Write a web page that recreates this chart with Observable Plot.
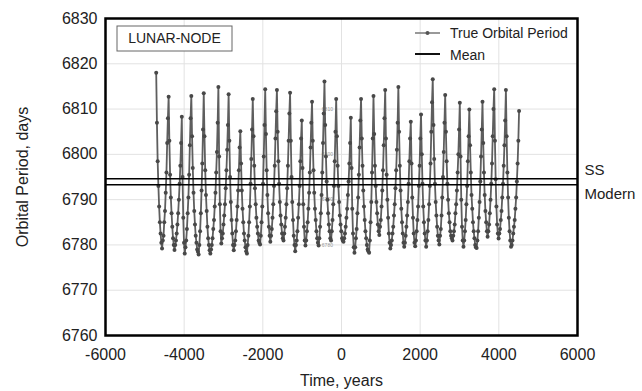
<!DOCTYPE html>
<html><head><meta charset="utf-8">
<script src="https://cdn.jsdelivr.net/npm/d3@7"></script>
<script src="https://cdn.jsdelivr.net/npm/@observablehq/plot@0.6"></script>
<style>body{margin:0;background:#fff;} #chart{width:642px;height:391px;}</style>
</head><body><div id="chart"></div>
<script>
// ---- data ----
const startYear = -4711;
const stepYears = 18.6;
const periodDays = [
6818.0,6807.0,6798.5,6793.0,6788.5,6785.0,6782.5,6780.5,6779.2,
6781.0,6782.0,6785.0,6787.5,6791.5,6796.0,6802.5,6808.0,6812.7,
6803.0,6795.5,6790.5,6787.0,6784.0,6781.5,6780.0,6778.9,
6780.0,6781.0,6782.5,6784.5,6787.0,6790.0,6793.5,6797.5,6802.5,6808.3,
6795.0,6786.0,6780.5,6778.1,
6779.5,6781.0,6783.5,6787.0,6790.5,6795.5,6802.0,6808.0,6812.9,
6804.0,6797.0,6791.5,6787.5,6784.5,6782.0,6780.5,6779.0,6778.5,6777.9,
6780.0,6783.0,6787.0,6792.0,6798.0,6805.5,6813.5,
6804.0,6796.5,6791.0,6787.5,6784.0,6781.5,6780.0,6778.8,6778.1,
6779.0,6780.0,6781.5,6783.5,6785.5,6788.5,6791.5,6796.0,6800.5,6807.0,6814.9,
6799.5,6789.0,6783.0,6780.3,
6781.5,6782.5,6784.5,6786.5,6789.0,6792.5,6796.5,6801.0,6806.5,6813.3,
6803.0,6795.0,6789.5,6785.5,6782.5,6780.0,6778.8,
6780.0,6781.0,6783.0,6785.5,6788.5,6792.0,6796.5,6801.5,6805.1,
6798.0,6792.0,6788.0,6785.0,6782.5,6781.0,6779.5,6778.6,6778.1,
6780.0,6782.0,6785.0,6788.5,6793.5,6799.0,6805.5,6812.2,
6804.0,6797.5,6792.5,6789.0,6786.0,6784.0,6782.5,6781.0,6780.5,6780.1,
6782.0,6785.0,6788.5,6793.5,6799.5,6806.5,6814.4,
6804.5,6796.5,6791.0,6787.0,6784.0,6782.0,6780.7,
6782.0,6783.5,6786.0,6789.0,6793.0,6797.5,6803.5,6809.5,6814.2,
6805.0,6798.5,6793.5,6789.5,6786.5,6784.5,6782.5,6781.5,6781.0,
6782.5,6784.0,6786.0,6789.0,6792.5,6797.5,6803.0,6809.0,6813.6,
6803.0,6795.0,6789.5,6785.5,6782.0,6780.0,6778.6,
6780.0,6781.0,6783.0,6786.0,6789.0,6793.0,6798.5,6803.5,6807.5,
6797.0,6789.0,6784.0,6781.0,6779.9,
6781.0,6783.0,6785.0,6788.0,6791.5,6796.0,6801.5,6807.0,6811.6,
6803.0,6796.5,6791.5,6788.0,6785.5,6783.0,6781.5,6780.5,6779.9,
6781.5,6784.0,6787.0,6791.0,6796.0,6802.5,6809.0,6816.1,
6806.5,6799.5,6794.0,6790.0,6787.0,6784.5,6783.0,6781.5,6781.0,
6783.0,6785.5,6789.0,6793.0,6798.5,6805.0,6812.2,
6804.0,6797.5,6793.0,6789.5,6786.5,6784.5,6783.0,6781.5,6781.0,6780.7,
6781.5,6782.5,6784.0,6786.0,6788.0,6791.0,6794.0,6798.0,6802.5,6808.1,
6797.0,6788.0,6782.5,6779.5,6778.3,
6779.5,6781.5,6783.5,6787.0,6790.5,6795.5,6801.5,6807.5,6812.2,
6803.5,6797.5,6792.0,6788.5,6785.5,6783.0,6781.5,6780.0,6779.0,6778.6,6778.3,
6781.0,6785.0,6789.5,6796.0,6803.5,6812.9,
6804.5,6797.5,6793.0,6789.5,6787.0,6784.5,6783.0,6782.2,
6784.0,6785.5,6788.5,6792.0,6796.5,6802.0,6808.0,6814.2,
6803.5,6795.5,6790.0,6786.0,6782.5,6780.5,6779.2,
6780.0,6781.0,6782.5,6784.0,6786.5,6789.0,6792.5,6796.5,6801.0,6807.0,6814.9,
6805.0,6797.5,6792.0,6788.0,6785.0,6782.5,6780.5,6779.6,
6780.5,6782.0,6784.0,6786.5,6789.5,6793.5,6798.5,6803.5,6807.2,
6798.0,6790.5,6786.0,6782.5,6780.5,6779.7,
6781.0,6783.0,6785.5,6788.5,6793.0,6797.5,6803.5,6808.8,
6800.0,6793.5,6788.5,6785.0,6782.5,6781.0,6779.6,
6781.0,6783.0,6785.5,6789.0,6793.0,6798.0,6805.0,6811.5,6816.6,
6806.5,6799.0,6793.5,6789.5,6786.5,6784.0,6782.0,6781.0,6780.1,
6782.0,6783.5,6786.5,6790.5,6795.0,6800.5,6807.0,6813.1,
6805.0,6798.5,6793.5,6790.0,6787.0,6785.0,6783.0,6782.0,6781.5,6781.0,
6782.0,6783.0,6784.5,6787.0,6789.0,6792.0,6796.0,6800.0,6805.5,6811.4,
6799.5,6790.0,6784.0,6781.0,6779.6,
6781.0,6783.0,6785.5,6789.0,6793.0,6798.5,6804.0,6809.9,
6802.0,6796.0,6791.0,6788.0,6785.0,6783.0,6781.5,6780.0,6779.5,6779.3,
6781.0,6783.0,6786.0,6789.5,6794.0,6799.5,6805.5,6811.6,
6802.5,6796.0,6791.0,6787.5,6785.0,6783.0,6781.8,
6783.0,6784.5,6787.0,6790.0,6793.5,6798.0,6804.0,6810.0,6814.4,
6803.0,6794.5,6788.5,6784.5,6782.5,6781.4,
6782.5,6783.5,6785.5,6787.5,6790.5,6793.5,6797.5,6802.0,6807.5,6814.2,
6804.0,6796.0,6790.5,6786.0,6783.0,6781.0,6779.6,
6780.0,6781.0,6782.5,6784.0,6785.5,6788.0,6790.5,6794.0,6798.0,6803.0,6809.6
];
const meanNames = ["SS", "Modern"];
const meanValues = [6794.6, 6793.3];
const xTicks = [-6000, -4000, -2000, 0, 2000, 4000, 6000];
const yTicks = [6760, 6770, 6780, 6790, 6800, 6810, 6820, 6830];
const insetTickValues = [6810, 6800, 6790, 6780];
const insetTickYear = -500;
const chartTag = "LUNAR-NODE";
const legendLabels = ["True Orbital Period", "Mean"];
const xTitle = "Time, years";
const yTitle = "Orbital Period, days";

// ---- tables ----
const series = periodDays.map((v, i) => ({year: startYear + i * stepYears, period: v}));
const means = meanNames.map((n, i) => ({name: n, value: meanValues[i]}));
const inset = insetTickValues.map(v => ({year: insetTickYear, value: v}));

const FONT = "'Liberation Sans', Arial, sans-serif";

function overlay(index, scales, values, dims) {
  const g = d3.create("svg:g").attr("font-family", FONT).attr("font-size", 14)
    .attr("fill", "#222").attr("text-anchor", "start");
  const L = dims.marginLeft, T = dims.marginTop, R = dims.width - dims.marginRight;
  // tag box
  g.append("rect").attr("x", L + 12).attr("y", T + 8).attr("width", 115).attr("height", 25)
    .attr("fill", "#fff").attr("stroke", "#666").attr("stroke-width", 1);
  g.append("text").attr("x", L + 12 + 57.5).attr("y", T + 8 + 12.5).attr("dy", "0.35em")
    .attr("text-anchor", "middle").text(chartTag);
  // legend
  const lx = R - 162;
  g.append("line").attr("x1", lx).attr("x2", lx + 25).attr("y1", T + 15).attr("y2", T + 15)
    .attr("stroke", "#777").attr("stroke-width", 1.5);
  g.append("circle").attr("cx", lx + 12.5).attr("cy", T + 15).attr("r", 2).attr("fill", "#555");
  g.append("text").attr("x", lx + 35).attr("y", T + 15).attr("dy", "0.35em").text(legendLabels[0]);
  g.append("line").attr("x1", lx).attr("x2", lx + 25).attr("y1", T + 36).attr("y2", T + 36)
    .attr("stroke", "#111").attr("stroke-width", 2);
  g.append("text").attr("x", lx + 35).attr("y", T + 37).attr("dy", "0.35em").text(legendLabels[1]);
  return g.node();
}

const chart = Plot.plot({
  width: 642,
  height: 391,
  marginLeft: 105,
  marginRight: 65,
  marginTop: 18,
  marginBottom: 56,
  style: {fontFamily: FONT, fontSize: "16px", color: "#222", background: "#fff"},
  x: {domain: [-6000, 6000]},
  y: {domain: [6760, 6830]},
  marks: [
    Plot.gridX(xTicks, {stroke: "#e2e2e2", strokeOpacity: 1, strokeWidth: 1}),
    Plot.gridY(yTicks, {stroke: "#e2e2e2", strokeOpacity: 1, strokeWidth: 1}),
    Plot.axisX(xTicks, {tickSize: 0, tickPadding: 13, tickFormat: d => String(d), fontSize: 16, label: null}),
    Plot.axisY(yTicks, {tickSize: 0, tickPadding: 8, tickFormat: d => String(d), fontSize: 16, label: null}),
    Plot.text(inset, {x: "year", y: "value", text: d => String(d.value), fontSize: 5, fill: "#999", textAnchor: "start"}),
    Plot.line(series, {x: "year", y: "period", stroke: "#5e5e5e", strokeWidth: 1.8}),
    Plot.dot(series, {x: "year", y: "period", r: 2, fill: "#484848", stroke: "none"}),
    Plot.ruleY(means, {y: "value", stroke: "#000", strokeWidth: 1.5}),
    Plot.frame({stroke: "#000", strokeWidth: 2.5}),
    Plot.text(means.slice(0, 1), {x: 6000, y: "value", text: "name", textAnchor: "start", dx: 7, dy: -9, fontSize: 15, fill: "#222"}),
    Plot.text(means.slice(1, 2), {x: 6000, y: "value", text: "name", textAnchor: "start", dx: 7, dy: 9, fontSize: 15, fill: "#222"}),
    Plot.text([xTitle], {frameAnchor: "bottom", dy: 45, lineAnchor: "middle", textAnchor: "middle", fontSize: 16, fill: "#222"}),
    Plot.text([yTitle], {frameAnchor: "left", dx: -83, rotate: -90, textAnchor: "middle", lineAnchor: "middle", fontSize: 16, fill: "#222"}),
    overlay
  ]
});
document.getElementById("chart").append(chart);
</script>
</body></html>
